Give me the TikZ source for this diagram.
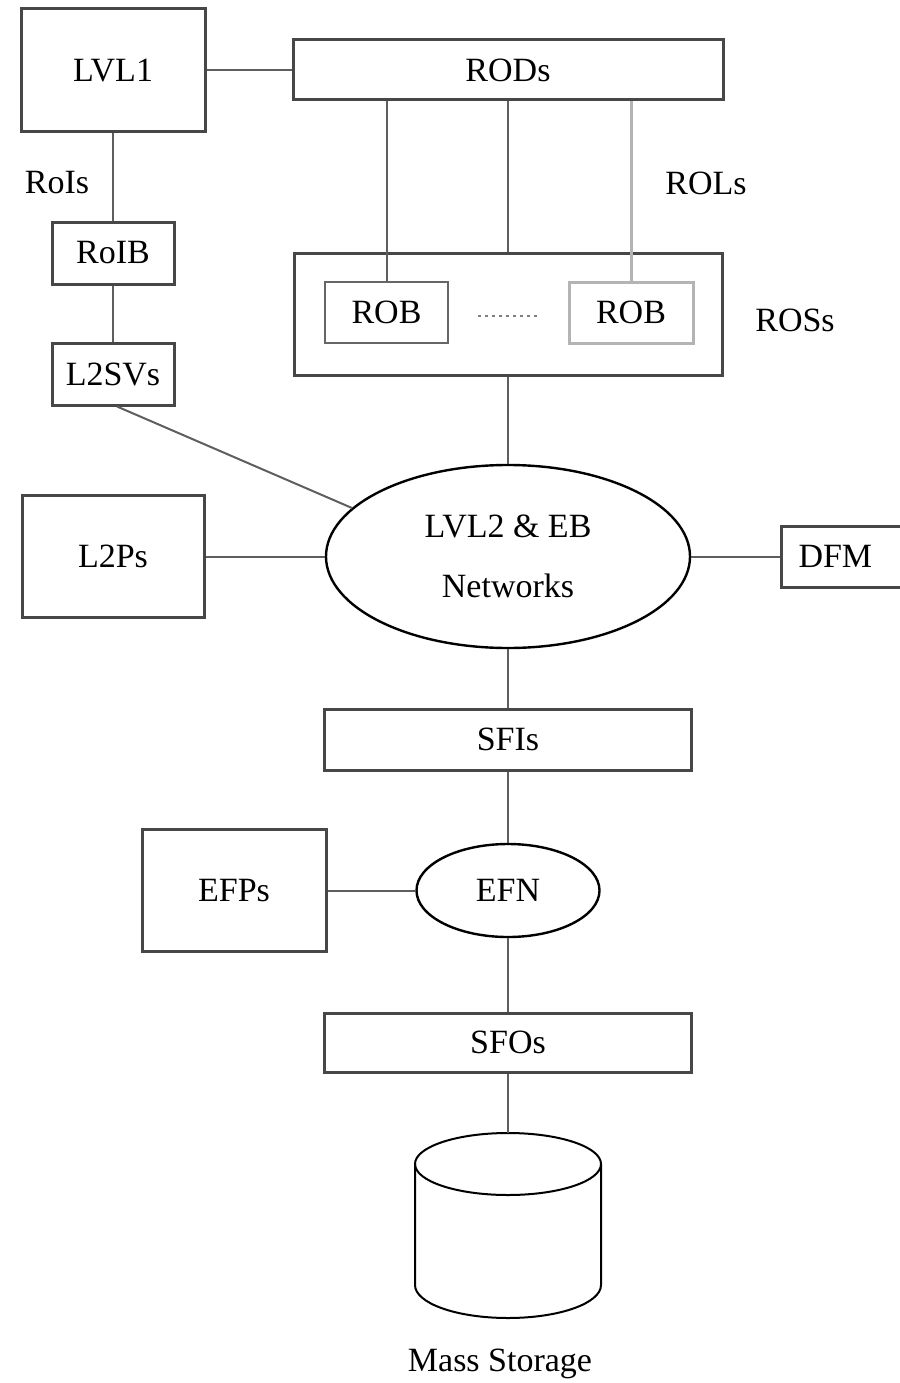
\documentclass[tikz,border=0pt]{standalone}
\usepackage{fontspec}
\setmainfont{Liberation Serif}
\usetikzlibrary{shapes.geometric}
\definecolor{boxline}{HTML}{474747}
\definecolor{conn}{HTML}{5E5E5E}
\definecolor{lightline}{HTML}{B4B4B4}
\begin{document}
\begin{tikzpicture}[x=1pt,y=-1pt,
  every node/.style={font=\fontsize{34}{40}\selectfont, inner sep=0pt},
  box/.style={draw=boxline, line width=3pt, rectangle, fill=white},
  netell/.style={draw=black, line width=2.4pt, ellipse, fill=white},
  wire/.style={draw=conn, line width=2pt},
  graywire/.style={draw=lightline, line width=3pt},
  lbl/.style={}]
\useasboundingbox (0,0) rectangle (899,1383);

% boxes
\node[box, minimum width=184, minimum height=123] (lvl1) at (113,70.5) {LVL1};
\node[box, minimum width=430, minimum height=60] (rods) at (508,70) {RODs};
\node[box, minimum width=122, minimum height=62] (roib) at (113,253) {RoIB};
\node[box, minimum width=122, minimum height=62] (l2svs) at (113,374) {L2SVs};
\node[box, minimum width=428, minimum height=122] (ross) at (508,314) {};
\node[box, draw=gray!80!black, line width=2pt, minimum width=123, minimum height=61] (robL) at (386.5,312.5) {ROB};
\node[box, draw=lightline, line width=3pt, minimum width=124, minimum height=61] (robR) at (631,312.5) {ROB};
\node[box, minimum width=182, minimum height=122] (l2ps) at (113,556.5) {L2Ps};
\node[netell, minimum width=364, minimum height=183, align=center, font=\fontsize{34}{60}\selectfont] (net) at (508,556.5) {LVL2 \& EB\\Networks};
\node[box, minimum width=154, minimum height=61, anchor=west, text width=120, align=left, inner xsep=17] (dfm) at (780,556.5) {DFM};
\node[box, minimum width=367, minimum height=61] (sfis) at (508,739.5) {SFIs};
\node[netell, minimum width=183, minimum height=93] (efn) at (508,890.5) {EFN};
\node[box, minimum width=184, minimum height=122] (efps) at (234,890.5) {EFPs};
\node[box, minimum width=367, minimum height=59] (sfos) at (508,1042.5) {SFOs};

% labels
\node[lbl] (rois) at (57,183) {RoIs};
\node[lbl] (rols) at (706,183) {ROLs};
\node[lbl] (rosslbl) at (795,320) {ROSs};
\node[lbl] (mass) at (500,1364) {Mass Storage};

% mass storage cylinder
\coordinate (cyltop) at (508,1133);
\draw[black, line width=2pt] (508,1164) ellipse [x radius=93pt, y radius=31pt];
\draw[black, line width=2pt] (415,1164) -- (415,1285)
   arc[start angle=180, end angle=360, x radius=93pt, y radius=33pt] -- (601,1164);

% connectors
\draw[wire] (lvl1.east) -- (lvl1.east -| rods.west);
\draw[wire] (lvl1.south) -- (roib.north);
\draw[wire] (roib.south) -- (l2svs.north);
\draw[wire] (rods.south -| robL.north) -- (robL.north);
\draw[wire] (rods.south) -- (ross.north);
\draw[graywire] (rods.south -| robR.north) -- (robR.north);
\coordinate (dotsL) at (478,316);
\coordinate (dotsR) at (537,316);
\draw[draw=gray, line width=1.5pt, dash pattern=on 3pt off 4pt] (dotsL) -- (dotsR);
\draw[wire] (ross.south) -- (net.north);
\coordinate (netL2sv) at (352,508);
\draw[wire] ([xshift=4pt]l2svs.south) -- (netL2sv);
\draw[wire] (l2ps.east) -- (net.west);
\draw[wire] (net.east) -- (dfm.west);
\draw[wire] (net.south) -- (sfis.north);
\draw[wire] (sfis.south) -- (efn.north);
\draw[wire] (efps.east) -- (efn.west);
\draw[wire] (efn.south) -- (sfos.north);
\draw[wire] (sfos.south) -- (cyltop);
\end{tikzpicture}
\end{document}
